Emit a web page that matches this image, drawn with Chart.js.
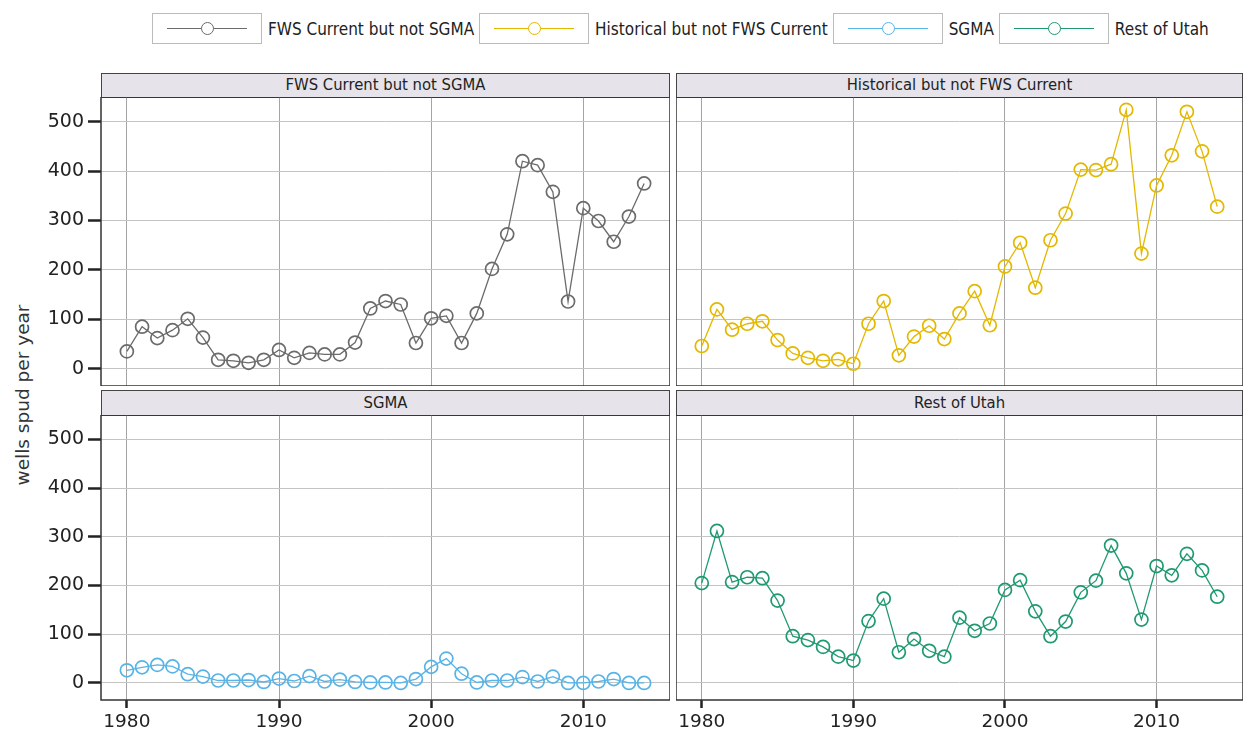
<!DOCTYPE html>
<html>
<head>
<meta charset="utf-8">
<script src="https://cdn.jsdelivr.net/npm/chart.js@4.4.1/dist/chart.umd.min.js"></script>
<style>
  body { margin: 0; width: 1249px; height: 740px; background: #fff; position: relative; overflow: hidden; font-family: "DejaVu Sans", sans-serif; }
  canvas { position: absolute; }
  .strip { position: absolute; box-sizing: border-box; background: #e6e4ea; border: 1.5px solid #444; color: #222;
           font-family: "DejaVu Sans Condensed", "DejaVu Sans", sans-serif; font-size: 16.5px; text-align: center; }
  #legend { position: absolute; left: 152px; top: 13px; display: flex; align-items: center; height: 31px;
            font-family: "DejaVu Sans Condensed", "DejaVu Sans", sans-serif; font-size: 17px; color: #222; }
  .key { position: relative; width: 110px; height: 31px; box-sizing: border-box; border: 1px solid #bbb; }
  .key .line { position: absolute; left: 14px; right: 14px; top: 14px; height: 1px; }
  .key .dot { position: absolute; left: 48px; top: 8px; width: 11px; height: 11px; border-radius: 50%; border: 1.5px solid; background: #fff; }
  .legend-text { margin: 0 5px 0 6px; }
  #ytitle { position: absolute; left: 22px; top: 395px; transform: translate(-50%, -50%) rotate(-90deg);
            white-space: nowrap; font-size: 18.5px; color: #333; }
</style>
</head>
<body>
<div id="legend"></div>
<div id="ytitle">wells spud per year</div>

<div class="strip" style="left:101px; top:73px; width:569px; height:25px; line-height:22px;">FWS Current but not SGMA</div>
<div class="strip" style="left:676px; top:73px; width:567px; height:25px; line-height:22px;">Historical but not FWS Current</div>
<div class="strip" style="left:101px; top:390px; width:569px; height:26px; line-height:23px;">SGMA</div>
<div class="strip" style="left:676px; top:390px; width:567px; height:26px; line-height:23px;">Rest of Utah</div>

<canvas id="chart-fws" width="639" height="289" style="left:31px; top:97px;"></canvas>
<canvas id="chart-historical" width="567" height="289" style="left:676px; top:97px;"></canvas>
<canvas id="chart-sgma" width="639" height="325" style="left:31px; top:415px;"></canvas>
<canvas id="chart-rest" width="567" height="325" style="left:676px; top:415px;"></canvas>

<script>
const years = [1980, 1981, 1982, 1983, 1984, 1985, 1986, 1987, 1988, 1989,
               1990, 1991, 1992, 1993, 1994, 1995, 1996, 1997, 1998, 1999,
               2000, 2001, 2002, 2003, 2004, 2005, 2006, 2007, 2008, 2009,
               2010, 2011, 2012, 2013, 2014];

const fwsCurrent = [35, 85, 62, 78, 101, 63, 18, 16, 12, 18,
                    38, 22, 32, 29, 29, 53, 122, 137, 130, 52,
                    102, 107, 52, 112, 202, 272, 420, 412, 358, 136,
                    325, 299, 257, 308, 375];
const historical = [46, 120, 79, 91, 96, 58, 31, 22, 16, 19,
                    10, 91, 137, 27, 65, 87, 60, 112, 157, 88,
                    207, 255, 164, 260, 314, 403, 402, 414, 524, 233,
                    371, 432, 520, 440, 328];
const sgma = [26, 32, 37, 34, 18, 13, 5, 5, 6, 2,
              9, 4, 14, 3, 7, 2, 1, 1, 0, 8,
              33, 50, 19, 1, 5, 5, 12, 3, 13, 0,
              0, 3, 8, 0, 0];
const restOfUtah = [205, 312, 207, 217, 215, 169, 96, 88, 74, 54,
                    46, 127, 173, 63, 90, 66, 54, 134, 107, 122,
                    191, 211, 147, 96, 126, 186, 210, 282, 225, 130,
                    240, 221, 265, 231, 177];

const xTicks = [1980, 1990, 2000, 2010];
const yTicks = [0, 100, 200, 300, 400, 500];

const seriesNames = ['FWS Current but not SGMA', 'Historical but not FWS Current', 'SGMA', 'Rest of Utah'];
const seriesColors = ['#6b6b6b', '#e3b800', '#58b4e6', '#1f9a6e'];

// Leyenda arriba
const legend = document.getElementById('legend');
seriesNames.forEach((name, i) => {
    const key = document.createElement('div');
    key.className = 'key';
    key.innerHTML = `<div class="line" style="background:${seriesColors[i]}"></div>
                     <div class="dot" style="border-color:${seriesColors[i]}"></div>`;
    const label = document.createElement('span');
    label.className = 'legend-text';
    label.textContent = name;
    legend.appendChild(key);
    legend.appendChild(label);
});

// Marco de cada panel
const panelBorder = {
    id: 'panelBorder',
    afterDraw(chart) {
        const { ctx, chartArea: a } = chart;
        ctx.save();
        ctx.strokeStyle = '#333';
        ctx.lineWidth = 1.5;
        ctx.strokeRect(a.left, a.top, a.right - a.left, a.bottom - a.top);
        ctx.restore();
    }
};

// Sin relleno extra por las etiquetas, para que los paneles queden alineados
function sinPadding(s) {
    s.paddingTop = 0;
    s.paddingBottom = 0;
    s.paddingLeft = 0;
    s.paddingRight = 0;
}

function crearPanel(canvasId, values, color, showX, showY) {
    const ctx = document.getElementById(canvasId).getContext('2d');
    return new Chart(ctx, {
        type: 'line',
        data: {
            datasets: [{
                data: years.map((y, i) => ({ x: y, y: values[i] })),
                borderColor: color,
                borderWidth: 1.3,
                pointRadius: 6.5,
                pointBorderWidth: 1.7,
                pointBorderColor: color,
                pointBackgroundColor: 'rgba(255,255,255,0)',
                tension: 0
            }]
        },
        options: {
            responsive: false,
            animation: false,
            events: [],
            layout: { padding: 0, autoPadding: false },
            plugins: { legend: { display: false }, tooltip: { enabled: false } },
            scales: {
                x: {
                    type: 'linear',
                    min: 1978.3,
                    max: 2015.7,
                    afterBuildTicks: s => { s.ticks = xTicks.map(v => ({ value: v })); },
                    afterFit: s => { s.height = showX ? 40 : 0; sinPadding(s); },
                    border: { display: false },
                    grid: { color: '#a4a4a4', lineWidth: 1, drawTicks: showX, tickLength: 8, tickColor: '#222', tickWidth: 2.5 },
                    ticks: { display: showX, color: '#222', font: { family: 'DejaVu Sans', size: 18.5 }, padding: 3, maxRotation: 0,
                             callback: v => String(v) }
                },
                y: {
                    min: -35,
                    max: 550,
                    afterBuildTicks: s => { s.ticks = yTicks.map(v => ({ value: v })); },
                    afterFit: s => { s.width = showY ? 70 : 0; sinPadding(s); },
                    border: { display: false },
                    grid: { color: '#c4c4c4', lineWidth: 1, drawTicks: showY, tickLength: 13, tickColor: '#222', tickWidth: 2.5 },
                    ticks: { display: showY, color: '#222', font: { family: 'DejaVu Sans', size: 19 }, padding: 4,
                             callback: v => String(v) }
                }
            }
        },
        plugins: [panelBorder]
    });
}

crearPanel('chart-fws', fwsCurrent, seriesColors[0], false, true);
crearPanel('chart-historical', historical, seriesColors[1], false, false);
crearPanel('chart-sgma', sgma, seriesColors[2], true, true);
crearPanel('chart-rest', restOfUtah, seriesColors[3], true, false);
</script>
</body>
</html>
